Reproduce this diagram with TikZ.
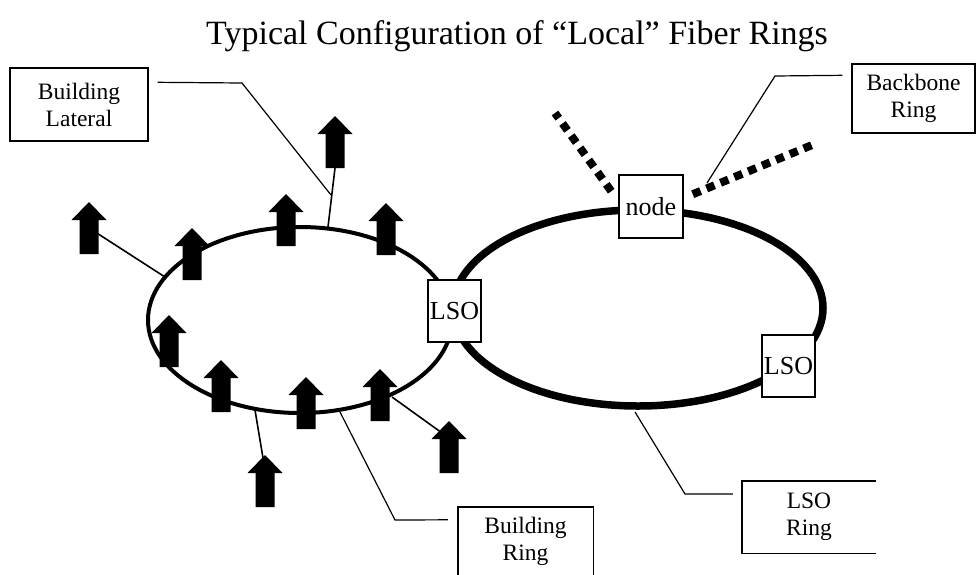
\documentclass[tikz,border=0pt]{standalone}
\usepackage{fontspec}
\setmainfont{Liberation Serif}
\usetikzlibrary{calc,backgrounds}
% block arrow standing on a named base point
\newcommand\bldgarrow[1]{%
  \fill[shift={(#1)}] (-9.5,0) -- (-9.5,-34) -- (-17.5,-34) -- (0,-52)
    -- (17.5,-34) -- (9.5,-34) -- (9.5,0) -- cycle;}
\begin{document}
\begin{tikzpicture}[x=1pt,y=-1pt,
  site/.style={draw, line width=1.5pt, fill=white, inner sep=0pt,
    font=\fontsize{26}{26}\selectfont},
  labelbox/.style={draw, line width=1.4pt, inner sep=0pt, align=center,
    font=\fontsize{23.5}{27}\selectfont},
  openbox/.style={inner sep=0pt, align=center, font=\fontsize{23.5}{27}\selectfont},
  openedge/.style={line width=1.4pt},
  leader/.style={line width=1.2pt},
  lateral/.style={line width=1.6pt},
  backbone/.style={line width=8pt, dash pattern=on 8.5pt off 6.5pt},
]
\useasboundingbox (0,0) rectangle (976,574);

% title
\node[font=\fontsize{34}{34}\selectfont, anchor=base] (title) at (517,44)
  {Typical Configuration of “Local” Fiber Rings};

% the two rings
\draw[line width=4pt] (300,320) ellipse [x radius=152pt, y radius=93pt];
\draw[line width=7.5pt] (638,308) ellipse [x radius=185pt, y radius=98pt];

% backbone node with the backbone ring legs behind it
\node[site, minimum width=64pt, minimum height=63pt] (node) at (651,206.5) {node};
\coordinate (bbL) at (555,113);
\coordinate (bbR) at (817,143);
\begin{pgfonlayer}{background}
\draw[backbone] ($(node.north west)+(-7,17)$) -- (bbL);
\draw[backbone] ($(node.north east)+(9,20)$) -- (bbR);
\end{pgfonlayer}

% local serving offices
\node[site, minimum width=53pt, minimum height=62pt] (lso1) at (454.5,311) {LSO};
\node[site, minimum width=53pt, minimum height=62pt] (lso2) at (788.5,366) {LSO};

% base points of the building arrows
\coordinate (a1) at (335,168);
\coordinate (a2) at (286,246);
\coordinate (a3) at (386,255);
\coordinate (a4) at (192,280);
\coordinate (a5) at (89,254);
\coordinate (a6) at (169,367);
\coordinate (a7) at (221,412);
\coordinate (a8) at (306,429);
\coordinate (a9) at (380,421);
\coordinate (a10) at (449,473);
\coordinate (a11) at (265,507);

% points on the building ring where laterals leave
\coordinate (r1) at (328,227);
\coordinate (r5) at (165,277);
\coordinate (r10) at (392,397);
\coordinate (r11) at (255,410);

% building laterals
\draw[lateral] (r1) -- (a1);
\draw[lateral] (r5) -- ($(a5)+(0,-26)$);
\draw[lateral] (r10) -- ($(a10)+(0,-35)$);
\draw[lateral] (r11) -- ($(a11)+(0,-37)$);

% buildings
\foreach \b in {a1,a2,a3,a4,a5,a6,a7,a8,a9,a10,a11} {\bldgarrow{\b}}

% label boxes
\node[labelbox, minimum width=138pt, minimum height=73pt] (bl) at (79,104.5)
  {Building\\Lateral};
\node[labelbox, minimum width=123pt, minimum height=69pt] (bb) at (913.5,98.5)
  {Backbone\\Ring};
\node[openbox, minimum width=134pt, minimum height=72pt] (lr) at (809,517)
  {LSO\\Ring};
\draw[openedge] (lr.north east) -- (lr.north west) -- (lr.south west) -- (lr.south east);
\node[openbox, minimum width=135pt, minimum height=69pt] (br) at (525.5,541.5)
  {Building\\Ring};
\draw[openedge] (br.south west) -- (br.north west) -- (br.north east) -- (br.south east);

% leader lines
\coordinate (latmid) at (331,195);
\coordinate (bbtip) at (707,183);
\coordinate (lrtip) at (635,412);
\coordinate (brtip) at (340,412);
\draw[leader] ($(bl.north east)+(9,15)$) -- (242,83) -- (latmid);
\draw[leader] ($(bb.north west)+(-9,12)$) -- (775,76) -- (bbtip);
\draw[leader] ($(lr.west)+(-9,-23)$) -- (685,494) -- (lrtip);
\draw[leader] ($(br.north west)+(-10,13)$) -- (395,520) -- (brtip);
\end{tikzpicture}
\end{document}
